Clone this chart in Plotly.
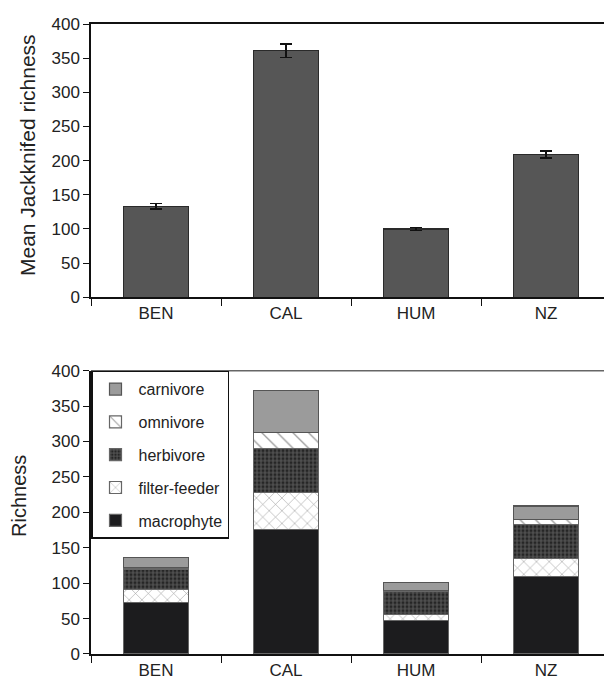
import plotly.graph_objects as go

sites = ["BEN", "CAL", "HUM", "NZ"]
jack_mean = [133, 361, 100, 209]
jack_err = [4, 10, 2, 5]

macrophyte = [73, 176, 47, 109]
filter_feeder = [18, 52, 9, 26]
herbivore = [29, 62, 33, 48]
omnivore = [2, 23, 1, 7]
carnivore = [14, 59, 11, 19]

FONT = "Liberation Sans, Arial, sans-serif"

fig = go.Figure()

fig.add_trace(go.Bar(
    x=sites, y=jack_mean, width=0.5, xaxis="x", yaxis="y", showlegend=False,
    marker=dict(color="#565656", line=dict(color="#2a2a2a", width=1.5)),
    error_y=dict(type="data", array=jack_err, color="#111111", thickness=1.5, width=6),
))

groups = [
    ("macrophyte", macrophyte, dict(color="#1c1c1e", line=dict(color="#666666", width=1.2))),
    ("filter-feeder", filter_feeder, dict(color="white", line=dict(color="#666666", width=1.2),
                                          pattern=dict(shape="x", fgcolor="#9a9a9a", bgcolor="white",
                                                       size=9, solidity=0.12, fillmode="replace"))),
    ("herbivore", herbivore, dict(color="#2a2a2a", line=dict(color="#666666", width=1.2),
                                  pattern=dict(shape="+", fgcolor="#5a5a5a", bgcolor="#262626",
                                               size=4, solidity=0.45, fillmode="replace"))),
    ("omnivore", omnivore, dict(color="white", line=dict(color="#666666", width=1.2),
                                pattern=dict(shape="\\", fgcolor="#9a9a9a", bgcolor="white",
                                             size=11, solidity=0.12, fillmode="replace"))),
    ("carnivore", carnivore, dict(color="#9b9b9b", line=dict(color="#555555", width=1.2))),
]
for rank, (name, vals, marker) in zip([5, 4, 3, 2, 1], groups):
    fig.add_trace(go.Bar(x=sites, y=vals, name=name, legendgroup=name, legendrank=rank,
                         width=0.5, xaxis="x2", yaxis="y2", marker=marker))

axis_common = dict(showline=True, linecolor="#111111", linewidth=1.5, ticks="outside",
                   tickcolor="#111111", tickwidth=1.2, showgrid=False, zeroline=False,
                   tickfont=dict(family=FONT, size=17, color="#222222"))

xr = [-0.5, 3.446]
fig.update_layout(
    width=604, height=679,
    margin=dict(l=91, r=0, t=24, b=25),
    paper_bgcolor="white", plot_bgcolor="white",
    barmode="stack",
    font=dict(family=FONT, color="#222222"),
    xaxis=dict(domain=[0, 1], anchor="y", type="category", range=xr, mirror=True,
               tickson="boundaries", ticklen=7, **axis_common),
    yaxis=dict(domain=[0.5662, 1], anchor="x", range=[0, 400], dtick=50, ticklen=6, **axis_common),
    xaxis2=dict(domain=[0, 1], anchor="y2", type="category", range=xr,
                tickson="boundaries", ticklen=7, **axis_common),
    yaxis2=dict(domain=[0, 0.4497], anchor="x2", range=[0, 400], dtick=50, ticklen=6, **axis_common),
    legend=dict(x=0, y=0.4497, xanchor="left", yanchor="top", bgcolor="white",
                bordercolor="#111111", borderwidth=1.5, traceorder="grouped", itemwidth=36,
                tracegroupgap=9, font=dict(family=FONT, size=16, color="#222222")),
    shapes=[dict(type="line", xref="x2 domain", yref="y2 domain", x0=0, x1=1, y0=1, y1=1,
                 line=dict(color="#666666", width=1.5))],
    annotations=[
        dict(text="Mean Jackknifed richness", textangle=-90, xref="paper", yref="paper",
             x=-0.1248, y=0.792, xanchor="center", yanchor="middle", showarrow=False,
             font=dict(family=FONT, size=21, color="#222222")),
        dict(text="Richness", textangle=-90, xref="paper", yref="paper",
             x=-0.1404, y=0.2508, xanchor="center", yanchor="middle", showarrow=False,
             font=dict(family=FONT, size=20, color="#222222")),
    ],
)

fig.write_html("out.html")
